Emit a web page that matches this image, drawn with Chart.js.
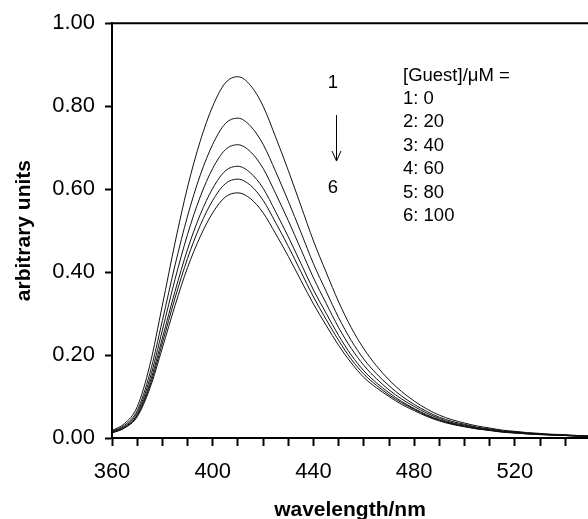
<!DOCTYPE html>
<html><head><meta charset="utf-8">
<script src="https://cdn.jsdelivr.net/npm/chart.js@4"></script>
<style>html,body{margin:0;padding:0;background:#fff}canvas{display:block}</style>
</head><body>
<canvas id="c" width="588" height="519"></canvas>
<script>
const wavelengths = [360,365,370,375,380,385,390,395,400,405,410,415,420,425,430,435,440,445,450,455,460,465,470,475,480,485,490,495,500,505,510,515,520,525,530,535,540,545,550];
const series1 = [.018,.035,.075,.175,.320,.470,.605,.715,.800,.856,.871,.850,.800,.725,.645,.560,.475,.400,.328,.266,.215,.174,.140,.112,.089,.070,.055,.044,.036,.029,.024,.019,.016,.013,.011,.009,.008,.006,.005];
const series2 = [.016,.031,.066,.155,.283,.416,.535,.633,.708,.758,.771,.752,.708,.642,.571,.496,.420,.354,.290,.235,.190,.155,.126,.101,.081,.064,.050,.040,.033,.026,.022,.017,.015,.012,.010,.008,.007,.005,.005];
const series3 = [.015,.028,.061,.142,.260,.382,.491,.581,.650,.695,.707,.690,.650,.589,.524,.455,.386,.325,.266,.216,.175,.143,.116,.094,.076,.060,.047,.037,.031,.025,.020,.016,.014,.011,.009,.008,.007,.005,.004];
const series4 = [.014,.026,.056,.132,.241,.353,.455,.538,.602,.644,.655,.639,.602,.545,.485,.421,.357,.301,.247,.200,.162,.133,.109,.088,.071,.056,.044,.035,.029,.023,.019,.015,.013,.010,.009,.007,.006,.005,.004];
const series5 = [.013,.025,.054,.125,.229,.337,.433,.512,.573,.613,.624,.609,.573,.519,.462,.401,.340,.286,.235,.190,.154,.127,.104,.085,.069,.054,.043,.034,.028,.022,.019,.015,.012,.010,.009,.007,.006,.005,.004];
const series6 = [.012,.024,.051,.119,.217,.319,.411,.485,.543,.581,.591,.577,.543,.492,.438,.380,.323,.272,.223,.181,.146,.121,.100,.081,.066,.052,.041,.033,.027,.022,.018,.014,.012,.010,.008,.007,.006,.004,.004];
const seriesLabels = ['1','2','3','4','5','6'];
const guestConcentrations = [0,20,40,60,80,100];
const legendTitle = '[Guest]/\u03BCM =';
const xTickValues = [360,370,380,390,400,410,420,430,440,450,460,470,480,490,500,510,520,530,540];
const xTickLabels = [360,400,440,480,520];
const yTickValues = [0,0.2,0.4,0.6,0.8,1.0];
const yTickLabels = ['0.00','0.20','0.40','0.60','0.80','1.00'];

const FONT = '"Liberation Sans", Arial, Helvetica, sans-serif';
const allSeries = [series1,series2,series3,series4,series5,series6];

const annot = {
  id: 'annot',
  afterDraw(chart) {
    const ctx = chart.ctx, a = chart.chartArea;
    ctx.save();
    ctx.strokeStyle = '#000';
    ctx.lineWidth = 2;
    ctx.beginPath(); ctx.moveTo(a.left, a.top); ctx.lineTo(a.right, a.top); ctx.stroke();
    ctx.fillStyle = '#000';
    ctx.font = '18.5px ' + FONT;
    ctx.textBaseline = 'middle';
    ctx.textAlign = 'left';
    ctx.fillText(legendTitle, 403, 76);
    seriesLabels.forEach((s, i) => ctx.fillText(s + ': ' + guestConcentrations[i], 403, 99 + i * 23.4));
    ctx.textAlign = 'center';
    ctx.fillText(seriesLabels[0], 333, 83);
    ctx.fillText(seriesLabels[5], 333, 188);
    ctx.lineWidth = 1;
    ctx.beginPath();
    ctx.moveTo(336.5, 115); ctx.lineTo(336.5, 161);
    ctx.moveTo(332, 151); ctx.lineTo(336.5, 161); ctx.lineTo(341, 151);
    ctx.stroke();
    ctx.restore();
  }
};

new Chart(document.getElementById('c'), {
  type: 'line',
  data: {
    datasets: allSeries.map((s, i) => ({
      label: seriesLabels[i],
      data: wavelengths.map((w, j) => ({x: w, y: s[j]})),
      borderColor: '#111',
      borderWidth: 1,
      pointRadius: 0,
      fill: false,
      cubicInterpolationMode: 'monotone'
    }))
  },
  options: {
    responsive: false,
    animation: false,
    devicePixelRatio: 1,
    layout: {padding: {top: 22, left: 0, right: 0, bottom: 0}},
    plugins: {legend: {display: false}, tooltip: {enabled: false}},
    scales: {
      x: {
        type: 'linear', min: 360, max: 549,
        afterBuildTicks: s => { s.ticks = xTickValues.map(v => ({value: v})); },
        afterFit: s => { s.height = 81; },
        ticks: {
          autoSkip: false, maxRotation: 0, padding: 13, color: '#000',
          font: {family: FONT, size: 22},
          callback: v => xTickLabels.includes(v) ? String(v) : ''
        },
        grid: {drawOnChartArea: false, drawTicks: true, tickLength: 8, tickWidth: 2, tickColor: '#000'},
        border: {display: true, color: '#000', width: 2},
        title: {display: true, text: 'wavelength/nm', color: '#000',
          font: {family: FONT, size: 21, weight: 'bold', lineHeight: 0.86}, padding: {top: 0, bottom: 0}}
      },
      y: {
        type: 'linear', min: 0, max: 1,
        afterBuildTicks: s => { s.ticks = yTickValues.map(v => ({value: v})); },
        afterFit: s => { s.width = 112; },
        ticks: {
          padding: 10, color: '#000',
          font: {family: FONT, size: 22},
          callback: (v) => yTickLabels[yTickValues.findIndex(t => Math.abs(t - v) < 1e-6)]
        },
        grid: {drawOnChartArea: false, drawTicks: true, tickLength: 7, tickWidth: 2, tickColor: '#000'},
        border: {display: true, color: '#000', width: 2},
        title: {display: true, text: 'arbitrary units', color: '#000',
          font: {family: FONT, size: 21, weight: 'bold'}, padding: {top: 12, bottom: 0}}
      }
    }
  },
  plugins: [annot]
});
</script>
</body></html>
